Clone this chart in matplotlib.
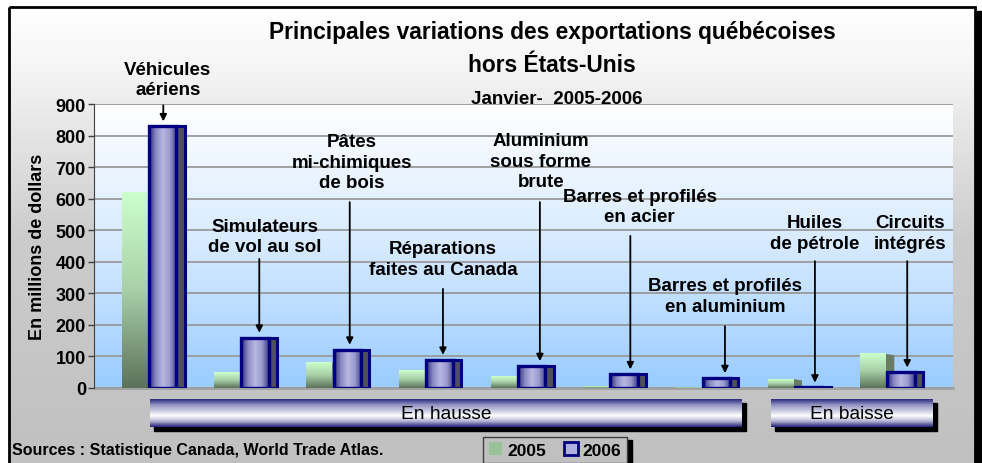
import matplotlib.pyplot as plt
import numpy as np
from matplotlib.colors import LinearSegmentedColormap
from matplotlib.patches import Patch, Rectangle, Polygon

plt.rcParams["font.family"] = ["Liberation Sans", "DejaVu Sans"]
plt.rcParams["font.weight"] = "bold"

# data (millions de dollars)
categories = [
    "Véhicules\naériens",
    "Simulateurs\nde vol au sol",
    "Pâtes\nmi-chimiques\nde bois",
    "Réparations\nfaites au Canada",
    "Aluminium\nsous forme\nbrute",
    "Barres et profilés\nen acier",
    "Barres et profilés\nen aluminium",
    "Huiles\nde pétrole",
    "Circuits\nintégrés",
]
values_2005 = [620, 50, 80, 55, 38, 6, 1, 28, 108]
values_2006 = [830, 160, 122, 90, 70, 44, 32, 2, 50]
series_labels = ["2005", "2006"]
y_ticks = [0, 100, 200, 300, 400, 500, 600, 700, 800, 900]
group_labels = ["En hausse", "En baisse"]

title_lines = [
    "Principales variations des exportations québécoises",
    "hors États-Unis",
]
subtitle = "Janvier-  2005-2006"
source_text = "Sources : Statistique Canada, World Trade Atlas."

# label layout: (text x offset, text y, arrow x offset, arrow start y), data units
label_layout = [
    (0.21, 978, 0.16, 896),
    (0.26, 480, 0.20, 409),
    (0.20, 716, 0.18, 589),
    (0.19, 409, 0.19, 314),
    (0.25, 719, 0.24, 589),
    (0.32, 575, 0.22, 482),
    (0.245, 292, 0.245, 196),
    (0.22, 491, 0.22, 402),
    (0.25, 491, 0.22, 402),
]

W, H = 982, 464
fig = plt.figure(figsize=(W / 100, H / 100), dpi=100)


def px_rect(x, y, w, h):
    # pixel box (top-left origin) -> figure fraction
    return [x / W, 1 - (y + h) / H, w / W, h / H]


# ---- outer background / frame
bg = fig.add_axes([0, 0, 1, 1], zorder=-10)
bg.set_xlim(0, W)
bg.set_ylim(H, 0)
bg.axis("off")
bg.add_patch(Rectangle((13, 12), 969, 470, color="black"))
bg_cmap = LinearSegmentedColormap.from_list(
    "bg", [(0, "#ffffff"), (0.12, "#f6f6f6"), (0.5, "#cccccc"), (1, "#c0c0c0")]
)
bg.imshow(np.linspace(0, 1, 256).reshape(-1, 1), cmap=bg_cmap, aspect="auto",
          extent=(9, 975, 470, 8), zorder=1)
bg.add_patch(Rectangle((9, 8), 966, 470, fill=False, edgecolor="black", lw=2, zorder=2))

# ---- main plot
ax = fig.add_axes(px_rect(95, 105, 858, 284))
x_min, x_max = -0.58, 8.716
y_max = 900

plot_cmap = LinearSegmentedColormap.from_list("plot", ["#ffffff", "#d6eaff", "#99ccff"])
ax.imshow(np.linspace(0, 1, 256).reshape(-1, 1), cmap=plot_cmap, aspect="auto",
          extent=(x_min, x_max, 0, y_max), zorder=0)
for t in y_ticks:
    ax.axhline(t, color="#9a9a9a", lw=1.3, zorder=1)

green_cmap = LinearSegmentedColormap.from_list("g", ["#ccffcc", "#a8d0a8", "#5c725a"])
blue_cmap = LinearSegmentedColormap.from_list(
    "b", [(0, "#2c2c78"), (0.25, "#8a8ac4"), (0.5, "#b8b8e2"), (0.75, "#9a9ad0"), (1, "#3c3c86")]
)
grad_v = np.linspace(0, 1, 128).reshape(-1, 1)
grad_h = np.linspace(0, 1, 128).reshape(1, -1)

for i, (v5, v6) in enumerate(zip(values_2005, values_2006)):
    # 2005 bar: front face + darker side
    gx0, gx1 = i - 0.29, i - 0.01
    ax.add_patch(Polygon([(gx1, 0), (gx1 + 0.09, 0), (gx1 + 0.09, v5 - 4), (gx1, v5)],
                         closed=True, facecolor="#687c66", edgecolor="none", zorder=2))
    ax.imshow(grad_v, cmap=green_cmap, aspect="auto", extent=(gx0, gx1, 0, v5), zorder=3)

    # 2006 bar: gradient cylinder-like front + grey side, navy outline
    bx0, bx1, bx2 = i + 0.005, i + 0.30, i + 0.39
    ax.add_patch(Rectangle((bx1, 0), bx2 - bx1, v6, facecolor="#505058",
                           edgecolor="#000080", lw=2.2, zorder=4))
    ax.imshow(grad_h, cmap=blue_cmap, aspect="auto", extent=(bx0, bx1, 0, v6), zorder=5)
    ax.add_patch(Rectangle((bx0, 0), bx1 - bx0, v6, fill=False,
                           edgecolor="#000080", lw=2.4, zorder=6))

    # category label with arrow pointing to the 2006 bar
    tx, ty, ax_x, ay = label_layout[i]
    ax.text(i + tx, ty, categories[i], ha="center", va="center", fontsize=13.5,
            fontweight="bold", linespacing=1.27, zorder=7, clip_on=False)
    ax.annotate("", xy=(i + ax_x, v6 + 15), xytext=(i + ax_x, ay),
                arrowprops=dict(arrowstyle="-|>", color="black", lw=1.3,
                                mutation_scale=10, shrinkA=0, shrinkB=0),
                zorder=7, annotation_clip=False)

ax.set_xlim(x_min, x_max)
ax.set_ylim(0, y_max)
ax.set_xticks([])
ax.set_yticks(y_ticks)
ax.tick_params(axis="y", length=4, width=1, color="#404040", pad=1.5, labelsize=13)
for s in ["top", "right", "bottom"]:
    ax.spines[s].set_visible(False)
ax.spines["left"].set_color("#404040")
ax.spines["left"].set_position(("outward", 1))
ax.set_ylabel("En millions de dollars", fontsize=13, fontweight="bold", labelpad=7)
ax.plot([x_min, x_max], [0, 0], color="#a0a0a0", lw=2, zorder=1, clip_on=False)

# ---- titles
fig.text(552 / W, 1 - 32 / H, title_lines[0], ha="center", va="center",
         fontsize=16.4, fontweight="bold")
fig.text(552 / W, 1 - 66 / H, title_lines[1], ha="center", va="center",
         fontsize=16.4, fontweight="bold")
fig.text(557 / W, 1 - 99 / H, subtitle, ha="center", va="center",
         fontsize=13.5, fontweight="bold")

# ---- group bands under the bars
band_cmap = LinearSegmentedColormap.from_list(
    "band", [(0, "#2a2a80"), (0.2, "#9090c0"), (0.6, "#ffffff"), (0.8, "#b0b0d0"), (1, "#202078")]
)
for label, (bx, bw) in zip(group_labels, [(150, 592), (771, 162)]):
    bg.add_patch(Rectangle((bx + 4, 404), bw, 28, color="black", zorder=3))
    band = fig.add_axes(px_rect(bx, 400, bw, 28))
    band.imshow(grad_v, cmap=band_cmap, aspect="auto", extent=(0, 1, 0, 1))
    band.set_xlim(0, 1)
    band.set_ylim(0, 1)
    band.axis("off")
    band.text(0.5, 0.47, label, ha="center", va="center", fontsize=13.8,
              fontweight="normal")

# ---- source and legend
fig.text(12 / W, 1 - 451 / H, source_text, ha="left", va="center",
         fontsize=11.5, fontweight="bold")

handles = [
    Patch(facecolor="#99c299", edgecolor="none", label=series_labels[0]),
    Patch(facecolor="#b0b0e0", edgecolor="#000080", lw=2, label=series_labels[1]),
]
bg.add_patch(Rectangle((486, 441), 146, 30, color="black", zorder=3))
leg = fig.legend(handles=handles, loc="center", bbox_to_anchor=(555 / W, 1 - 451 / H),
                 ncol=2, frameon=True, fancybox=False,
                 prop={"weight": "bold", "size": 12.5}, handlelength=0.8,
                 handleheight=0.8, handletextpad=0.3, columnspacing=1.0,
                 borderpad=0.3)
leg.get_frame().set_facecolor("#c0c0c0")
leg.get_frame().set_edgecolor("#404040")
leg.get_frame().set_alpha(1)

fig.savefig("out.png", dpi=100)
